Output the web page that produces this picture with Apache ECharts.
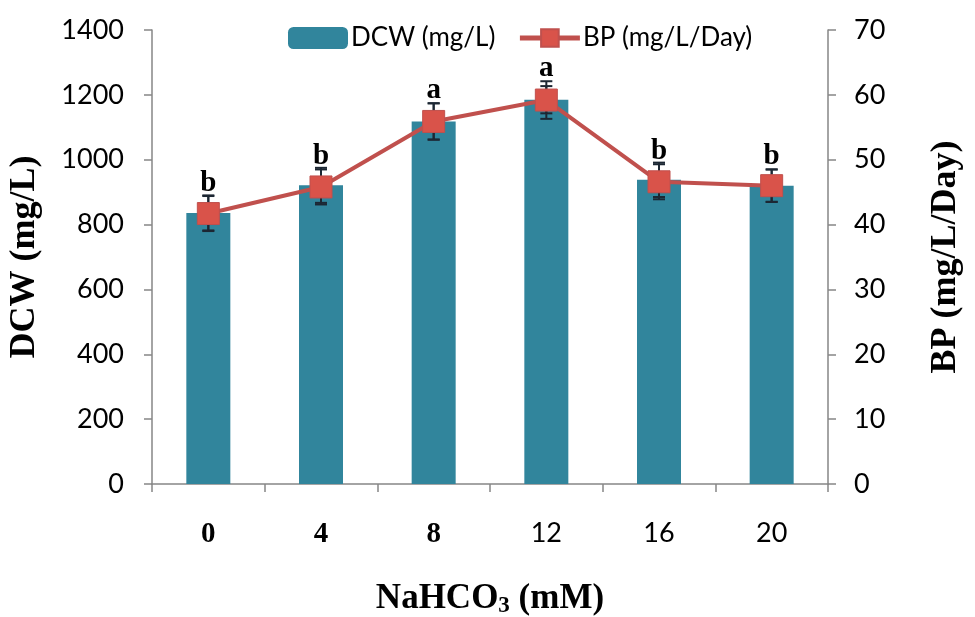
<!DOCTYPE html>
<html>
<head>
<meta charset="utf-8">
<script src="https://cdn.jsdelivr.net/npm/echarts@6/dist/echarts.min.js"></script>
<style>html,body{margin:0;padding:0;background:#fff;}#c{width:975px;height:617px;}</style>
</head>
<body>
<div id="c"></div>
<script>
const categories = ['0', '4', '8', '12', '16', '20'];
const dcw = [836, 921, 1118, 1185, 938, 920];
const bp = [41.7, 45.8, 55.9, 59.2, 46.6, 46.0];
const dcwErr = [54, 54, 56, 42, 53, 50];
const bpErr = [2.7, 2.7, 2.8, 2.9, 2.7, 2.5];
const letters = ['b', 'b', 'a', 'a', 'b', 'b'];
const serifCats = ['0', '4', '8'];

const serif = '"Liberation Serif","Times New Roman",serif';
const sans = 'Lato, "Open Sans", sans-serif';
const errColor = '#1c2733';

function errRender(withLetter) {
  return function (params, api) {
    const i = api.value(0);
    const lo = api.coord([i, api.value(1)]);
    const hi = api.coord([i, api.value(2)]);
    const x = lo[0];
    const cap = 6;
    const st = { stroke: errColor, lineWidth: 2 };
    const children = [
      { type: 'line', shape: { x1: x, y1: lo[1], x2: x, y2: hi[1] }, style: st },
      { type: 'line', shape: { x1: x - cap, y1: lo[1], x2: x + cap, y2: lo[1] }, style: st },
      { type: 'line', shape: { x1: x - cap, y1: hi[1], x2: x + cap, y2: hi[1] }, style: st }
    ];
    if (withLetter) {
      children.push({
        type: 'text',
        style: {
          text: letters[params.dataIndex], x: x, y: hi[1] + 2,
          align: 'center', verticalAlign: 'bottom',
          font: 'bold 29px ' + serif, fill: '#000'
        }
      });
    }
    return { type: 'group', children: children };
  };
}

const chart = echarts.init(document.getElementById('c'));
chart.setOption({
  animation: false,
  backgroundColor: '#fff',
  grid: { left: 152, right: 147, top: 30, bottom: 133, containLabel: false, outerBoundsMode: 'none' },
  legend: {
    left: 283, top: 20, itemWidth: 60, itemHeight: 22, itemGap: 22,
    textStyle: { fontFamily: sans, fontSize: 26, color: '#000', padding: [0, 0, 0, -2] },
    lineStyle: { width: 5 },
    data: ['DCW (mg/L)', 'BP (mg/L/Day)']
  },
  xAxis: {
    type: 'category', data: categories,
    axisLine: { lineStyle: { color: '#868686', width: 1.5 } },
    axisTick: { show: true, length: 8, lineStyle: { color: '#868686', width: 1.5 } },
    axisLabel: {
      margin: 36,
      formatter: v => serifCats.includes(v) ? '{s|' + v + '}' : '{c|' + v + '}',
      rich: {
        s: { fontFamily: serif, fontWeight: 'bold', fontSize: 29, color: '#000' },
        c: { fontFamily: sans, fontSize: 27, color: '#000' }
      }
    },
    name: 'NaHCO{sub|3} (mM)', nameLocation: 'middle', nameGap: 96,
    nameTextStyle: {
      fontFamily: serif, fontWeight: 'bold', fontSize: 35, color: '#000',
      rich: {
        sub: { fontFamily: serif, fontWeight: 'bold', fontSize: 23, color: '#000', padding: [15, 0, 0, 0] }
      }
    }
  },
  yAxis: [
    {
      type: 'value', min: 0, max: 1400, interval: 200,
      splitLine: { show: false },
      axisLine: { show: true, lineStyle: { color: '#868686', width: 1.5 } },
      axisTick: { show: true, length: 8, lineStyle: { color: '#868686', width: 1.5 } },
      axisLabel: { margin: 28, fontFamily: sans, fontSize: 27, color: '#000', formatter: v => String(v) },
      name: 'DCW (mg/L)', nameLocation: 'middle', nameGap: 109, nameRotate: 90,
      nameTextStyle: { fontFamily: serif, fontWeight: 'bold', fontSize: 36, color: '#000' }
    },
    {
      type: 'value', min: 0, max: 70, interval: 10, position: 'right',
      splitLine: { show: false },
      axisLine: { show: true, lineStyle: { color: '#868686', width: 1.5 } },
      axisTick: { show: true, length: 8, lineStyle: { color: '#868686', width: 1.5 } },
      axisLabel: { margin: 26, fontFamily: sans, fontSize: 27, color: '#000', formatter: v => String(v) },
      name: 'BP (mg/L/Day)', nameLocation: 'middle', nameGap: 100, nameRotate: 90,
      nameTextStyle: { fontFamily: serif, fontWeight: 'bold', fontSize: 36, color: '#000' }
    }
  ],
  series: [
    {
      name: 'DCW (mg/L)', type: 'bar', data: dcw, barWidth: 44, yAxisIndex: 0,
      itemStyle: { color: '#31859C' }, z: 1
    },
    {
      type: 'custom', yAxisIndex: 0, z: 3, silent: true,
      renderItem: errRender(false),
      data: dcw.map((v, i) => [i, v - dcwErr[i], v + dcwErr[i]])
    },
    {
      type: 'custom', yAxisIndex: 1, z: 3, silent: true,
      renderItem: errRender(true),
      data: bp.map((v, i) => [i, v - bpErr[i], v + bpErr[i]])
    },
    {
      name: 'BP (mg/L/Day)', type: 'line', data: bp, yAxisIndex: 1,
      symbol: 'rect', symbolSize: 22, z: 5,
      lineStyle: { color: '#C0504D', width: 4 },
      itemStyle: { color: '#D9534A', borderColor: '#C0504D', borderWidth: 1 }
    }
  ]
});
</script>
</body>
</html>
